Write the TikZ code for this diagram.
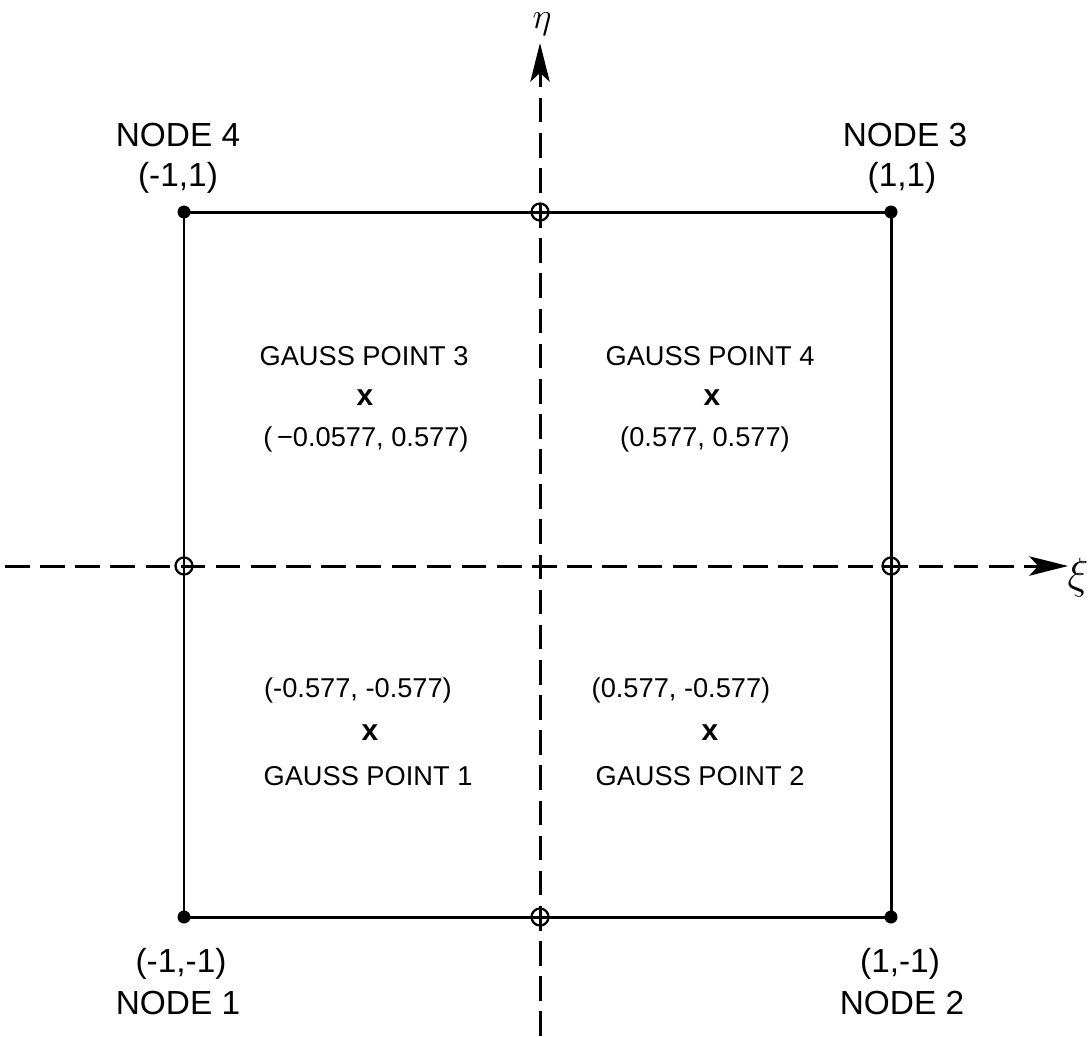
\documentclass[tikz,border=0pt]{standalone}
\usepackage{fontspec}
\setmainfont{Liberation Sans}
\usetikzlibrary{arrows.meta}
\begin{document}
\begin{tikzpicture}[x=0.02cm,y=-0.02cm,
  edgeline/.style={line width=1.7pt},
  axisline/.style={line width=1.7pt, dash pattern=on 14pt off 6pt},
  axistip/.style={-{Stealth[length=22pt,width=11pt,inset=5pt]}},
  cornerdot/.style={circle,fill=black,inner sep=0pt,minimum size=0.26cm},
  midring/.style={circle,draw=black,line width=1.3pt,inner sep=0pt,minimum size=0.34cm},
  nodelabel/.style={inner sep=0pt,font=\fontsize{19}{22}\selectfont},
  gausslabel/.style={inner sep=0pt,font=\fontsize{15.5}{18}\selectfont},
  marklabel/.style={inner sep=0pt,font=\fontsize{17}{20}\selectfont\bfseries}
]
\useasboundingbox (0,0) rectangle (1091,1036);

% corners
\coordinate (c1) at (184,917);
\coordinate (c2) at (891,917);
\coordinate (c3) at (891,212);
\coordinate (c4) at (184,212);

% axes end points
\coordinate (etabot) at (540,1036);
\coordinate (etatop) at (540,43);
\coordinate (xileft) at (5,566);
\coordinate (xiright) at (1068,566);

% axes
\draw[axisline,axistip] (etabot) -- (etatop);
\draw[axisline,axistip] (xileft) -- (xiright);
\node[inner sep=0pt,font=\fontsize{22}{24}\selectfont] (eta) at (542,24) {$\eta$};
\node[inner sep=0pt,font=\fontsize{26}{28}\selectfont] (xi) at (1078,578) {$\xi$};

% element
\draw[edgeline] (c1) -- (c2) -- (c3) -- (c4) -- cycle;

% corner dots
\node[cornerdot] (d1) at (c1) {};
\node[cornerdot] (d2) at (c2) {};
\node[cornerdot] (d3) at (c3) {};
\node[cornerdot] (d4) at (c4) {};

% mid-side rings
\node[midring] (m12) at (540,917) {};
\node[midring] (m23) at (891,566) {};
\node[midring] (m34) at (540,212) {};
\node[midring] (m41) at (184,566) {};

% node labels
\node[nodelabel] (n4a) at (178,135) {NODE 4};
\node[nodelabel] (n4b) at (178,178) {(-1,1)};
\node[nodelabel] (n3a) at (905,135) {NODE 3};
\node[nodelabel] (n3b) at (902,178) {(1,1)};
\node[nodelabel] (n1b) at (181,964) {(-1,-1)};
\node[nodelabel] (n1a) at (178,1003) {NODE 1};
\node[nodelabel] (n2b) at (900,964) {(1,-1)};
\node[nodelabel] (n2a) at (902,1003) {NODE 2};

% Gauss points
\node[gausslabel] (g3a) at (364,356) {GAUSS POINT 3};
\node[marklabel] (g3x) at (365,398) {x};
\node[gausslabel] (g3b) at (366,439) {(\,−0.0577, 0.577)};

\node[gausslabel] (g4a) at (710,356) {GAUSS POINT 4};
\node[marklabel] (g4x) at (712,398) {x};
\node[gausslabel] (g4b) at (705,439) {(0.577, 0.577)};

\node[gausslabel] (g1b) at (358,690) {(-0.577, -0.577)};
\node[marklabel] (g1x) at (370,733) {x};
\node[gausslabel] (g1a) at (368,776) {GAUSS POINT 1};

\node[gausslabel] (g2b) at (681,690) {(0.577, -0.577)};
\node[marklabel] (g2x) at (710,733) {x};
\node[gausslabel] (g2a) at (700,776) {GAUSS POINT 2};
\end{tikzpicture}
\end{document}
